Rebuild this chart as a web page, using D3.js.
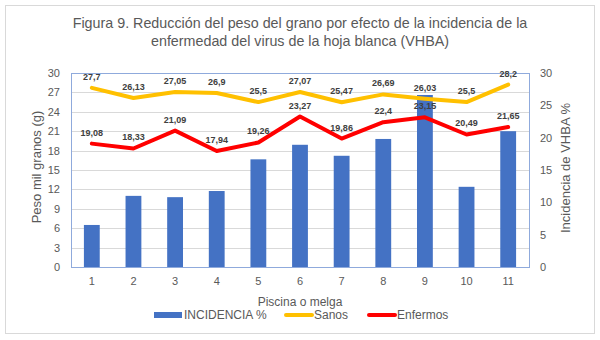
<!DOCTYPE html>
<html>
<head>
<meta charset="utf-8">
<script src="https://cdn.jsdelivr.net/npm/d3@7"></script>
<style>
  body { margin: 0; background: #fff; }
  text { font-family: "Liberation Sans", Arial, sans-serif; }
</style>
</head>
<body>
<div id="chart"></div>
<script>
// data
var piscinas   = ['1', '2', '3', '4', '5', '6', '7', '8', '9', '10', '11'];
var incidencia = [6.5, 11.0, 10.8, 11.75, 16.65, 18.9, 17.2, 19.8, 26.6, 12.4, 21.0];
var sanos      = [27.7, 26.13, 27.05, 26.9, 25.5, 27.07, 25.47, 26.69, 26.03, 25.5, 28.2];
var enfermos   = [19.08, 18.33, 21.09, 17.94, 19.26, 23.27, 19.86, 22.4, 23.15, 20.49, 21.65];
var leftTicks  = [0, 3, 6, 9, 12, 15, 18, 21, 24, 27, 30];
var rightTicks = [0, 5, 10, 15, 20, 25, 30];

var width = 600, height = 340;
var margin = { top: 73, right: 71, bottom: 73, left: 71 };
var innerW = width - margin.left - margin.right;
var innerH = height - margin.top - margin.bottom;

var grey = '#595959';

var svg = d3.select('#chart').append('svg')
    .attr('width', width)
    .attr('height', height);

// outer frame
svg.append('rect')
    .attr('x', 5.5).attr('y', 5.5)
    .attr('width', 589).attr('height', 328)
    .attr('fill', '#fff')
    .attr('stroke', '#d9d9d9');

// title
var title = svg.append('text')
    .attr('x', width / 2)
    .attr('text-anchor', 'middle')
    .attr('fill', grey)
    .style('font-size', '14.3px');
title.append('tspan').attr('x', width / 2).attr('y', 28)
    .text('Figura 9. Reducción del peso del grano por efecto de la incidencia de la');
title.append('tspan').attr('x', width / 2).attr('y', 46)
    .text('enfermedad del virus de la hoja blanca (VHBA)');

var g = svg.append('g')
    .attr('transform', 'translate(' + margin.left + ',' + margin.top + ')');

var x = d3.scaleBand()
    .domain(piscinas)
    .range([0, innerW])
    .paddingInner(0.62)
    .paddingOuter(0.31);

var xc = function (d) { return x(d) + x.bandwidth() / 2; };

var yLeft = d3.scaleLinear().domain([0, 30]).range([innerH, 0]);
var yRight = d3.scaleLinear().domain([0, 30]).range([innerH, 0]);

// gridlines
g.selectAll('line.grid')
    .data(leftTicks)
    .enter()
    .append('line')
    .attr('class', 'grid')
    .attr('x1', 0).attr('x2', innerW)
    .attr('y1', function (d) { return Math.round(yLeft(d)) + 0.5; })
    .attr('y2', function (d) { return Math.round(yLeft(d)) + 0.5; })
    .attr('stroke', '#d9d9d9')
    .attr('stroke-width', 1);

// bars (right axis)
g.selectAll('rect.bar')
    .data(incidencia)
    .enter()
    .append('rect')
    .attr('class', 'bar')
    .attr('x', function (d, i) { return x(piscinas[i]); })
    .attr('width', x.bandwidth())
    .attr('y', function (d) { return yRight(d); })
    .attr('height', function (d) { return innerH - yRight(d); })
    .attr('fill', '#4472c4');

// plot area border
g.append('rect')
    .attr('x', 0.5).attr('y', 0.5)
    .attr('width', innerW).attr('height', innerH)
    .attr('fill', 'none')
    .attr('stroke', '#8faadc');

// lines
var line = d3.line()
    .x(function (d, i) { return xc(piscinas[i]); })
    .y(function (d) { return yLeft(d); });

function drawSeries(values, color) {
  g.append('path')
      .datum(values)
      .attr('d', line)
      .attr('fill', 'none')
      .attr('stroke', color)
      .attr('stroke-width', 4)
      .attr('stroke-linejoin', 'round')
      .attr('stroke-linecap', 'round');

  g.selectAll(null)
      .data(values)
      .enter()
      .append('text')
      .attr('x', function (d, i) { return xc(piscinas[i]); })
      .attr('y', function (d) { return yLeft(d) - 8; })
      .attr('text-anchor', 'middle')
      .attr('fill', '#404040')
      .style('font-size', '9px')
      .style('font-weight', 'bold')
      .text(function (d) { return String(d).replace('.', ','); });
}

drawSeries(sanos, '#ffc000');
drawSeries(enfermos, '#ff0000');

// axes
var leftAxis = d3.axisLeft(yLeft).tickValues(leftTicks).tickSize(0).tickPadding(11);
var rightAxis = d3.axisRight(yRight).tickValues(rightTicks).tickSize(0).tickPadding(11);
var bottomAxis = d3.axisBottom(x).tickSize(0).tickPadding(10);

function styleAxis(sel) {
  sel.select('.domain').remove();
  sel.selectAll('text')
      .attr('fill', grey)
      .style('font-size', '11px')
      .style('font-family', '"Liberation Sans", Arial, sans-serif');
}

g.append('g').call(leftAxis).call(styleAxis);
g.append('g').attr('transform', 'translate(' + innerW + ',0)').call(rightAxis).call(styleAxis);
g.append('g').attr('transform', 'translate(0,' + innerH + ')').call(bottomAxis).call(styleAxis);

// axis titles
svg.append('text')
    .attr('transform', 'translate(41,' + (margin.top + innerH / 2 - 3) + ') rotate(-90)')
    .attr('text-anchor', 'middle')
    .attr('fill', grey)
    .style('font-size', '13px')
    .text('Peso mil granos (g)');

svg.append('text')
    .attr('transform', 'translate(570,' + (margin.top + innerH / 2 - 2) + ') rotate(-90)')
    .attr('text-anchor', 'middle')
    .attr('fill', grey)
    .style('font-size', '13px')
    .text('Incidencia de VHBA %');

svg.append('text')
    .attr('x', margin.left + innerW / 2)
    .attr('y', 306)
    .attr('text-anchor', 'middle')
    .attr('fill', grey)
    .style('font-size', '12px')
    .text('Piscina o melga');

// legend
var legendItems = [
  { name: 'INCIDENCIA %', color: '#4472c4', type: 'bar', x: 154 },
  { name: 'Sanos', color: '#ffc000', type: 'line', x: 284 },
  { name: 'Enfermos', color: '#ff0000', type: 'line', x: 367 }
];

var legend = svg.append('g').attr('transform', 'translate(0,315)');
legendItems.forEach(function (item) {
  if (item.type === 'bar') {
    legend.append('rect')
        .attr('x', item.x).attr('y', -3)
        .attr('width', 28).attr('height', 6)
        .attr('fill', item.color);
  } else {
    legend.append('line')
        .attr('x1', item.x + 2).attr('x2', item.x + 28)
        .attr('y1', 0).attr('y2', 0)
        .attr('stroke', item.color)
        .attr('stroke-width', 4)
        .attr('stroke-linecap', 'round');
  }
  legend.append('text')
      .attr('x', item.x + 30)
      .attr('y', 4)
      .attr('fill', grey)
      .style('font-size', '12px')
      .text(item.name);
});
</script>
</body>
</html>
